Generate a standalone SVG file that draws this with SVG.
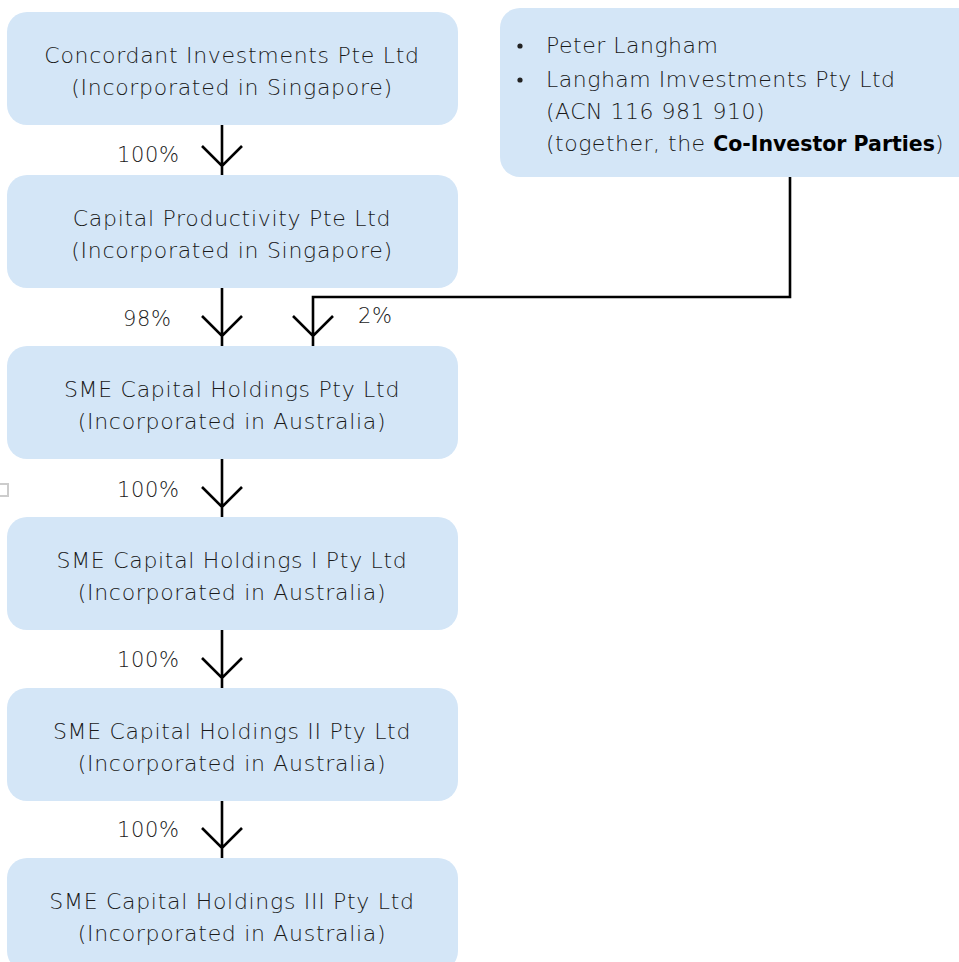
<svg xmlns="http://www.w3.org/2000/svg" width="959" height="962" viewBox="0 0 959 962">
<style>
.box{fill:#d4e6f7}
.t{font-family:"DejaVu Sans","Noto Sans",sans-serif;font-size:22px;letter-spacing:0.7px;fill:#1a1a1a;text-anchor:middle;font-weight:200}
.l{font-family:"DejaVu Sans","Noto Sans",sans-serif;font-size:21px;letter-spacing:0.6px;fill:#1a1a1a;font-weight:200}
.r{font-family:"DejaVu Sans","Noto Sans",sans-serif;font-size:22px;letter-spacing:0.5px;fill:#1a1a1a;font-weight:200}
.b{font-weight:700;font-size:20.5px;letter-spacing:0;fill:#000}
.c{fill:none;stroke:#000;stroke-width:2.6}
</style>
<rect width="959" height="962" fill="#fff"/>
<rect x="-3" y="484" width="11" height="12" fill="none" stroke="#ccc" stroke-width="2"/>
<g id="n1"><rect class="box" x="7" y="12" width="451" height="113" rx="20"/>
<text class="t" x="232" y="63">Concordant Investments Pte Ltd</text>
<text class="t" x="232" y="95">(Incorporated in Singapore)</text></g>
<g id="n2"><rect class="box" x="7" y="175" width="451" height="113" rx="20"/>
<text class="t" x="232" y="226">Capital Productivity Pte Ltd</text>
<text class="t" x="232" y="258">(Incorporated in Singapore)</text></g>
<g id="n3"><rect class="box" x="7" y="346" width="451" height="113" rx="20"/>
<text class="t" x="232" y="397">SME Capital Holdings Pty Ltd</text>
<text class="t" x="232" y="429">(Incorporated in Australia)</text></g>
<g id="n4"><rect class="box" x="7" y="517" width="451" height="113" rx="20"/>
<text class="t" x="232" y="568">SME Capital Holdings I Pty Ltd</text>
<text class="t" x="232" y="600">(Incorporated in Australia)</text></g>
<g id="n5"><rect class="box" x="7" y="688" width="451" height="113" rx="20"/>
<text class="t" x="232" y="739">SME Capital Holdings II Pty Ltd</text>
<text class="t" x="232" y="771">(Incorporated in Australia)</text></g>
<g id="n6"><rect class="box" x="7" y="858" width="451" height="113" rx="20"/>
<text class="t" x="232" y="909">SME Capital Holdings III Pty Ltd</text>
<text class="t" x="232" y="941">(Incorporated in Australia)</text></g>
<g id="n7"><rect class="box" x="500" y="8" width="480" height="169" rx="20"/>
<circle cx="520" cy="46" r="2.6" fill="#222"/>
<circle cx="520" cy="80" r="2.6" fill="#222"/>
<text class="r" x="546" y="53">Peter Langham</text>
<text class="r" x="546" y="87">Langham Imvestments Pty Ltd</text>
<text class="r" x="546" y="119">(ACN 116 981 910)</text>
<text class="r" x="546" y="151">(together, the <tspan class="b">Co-Investor Parties</tspan>)</text></g>
<g id="connectors">
<path class="c" d="M222 125V175M202 146L222 166L242 146"/>
<path class="c" d="M222 288V346M202 316L222 336L242 316"/>
<path class="c" d="M790 177V297H313V346M293 316L313 336L333 316"/>
<path class="c" d="M222 459V517M202 487L222 507L242 487"/>
<path class="c" d="M222 630V688M202 658L222 678L242 658"/>
<path class="c" d="M222 801V858M202 828L222 848L242 828"/>
</g>
<g id="labels">
<text class="l" x="117" y="162">100%</text>
<text class="l" x="123" y="326">98%</text>
<text class="l" x="358" y="323">2%</text>
<text class="l" x="117" y="497">100%</text>
<text class="l" x="117" y="667">100%</text>
<text class="l" x="117" y="837">100%</text>
</g>
</svg>
